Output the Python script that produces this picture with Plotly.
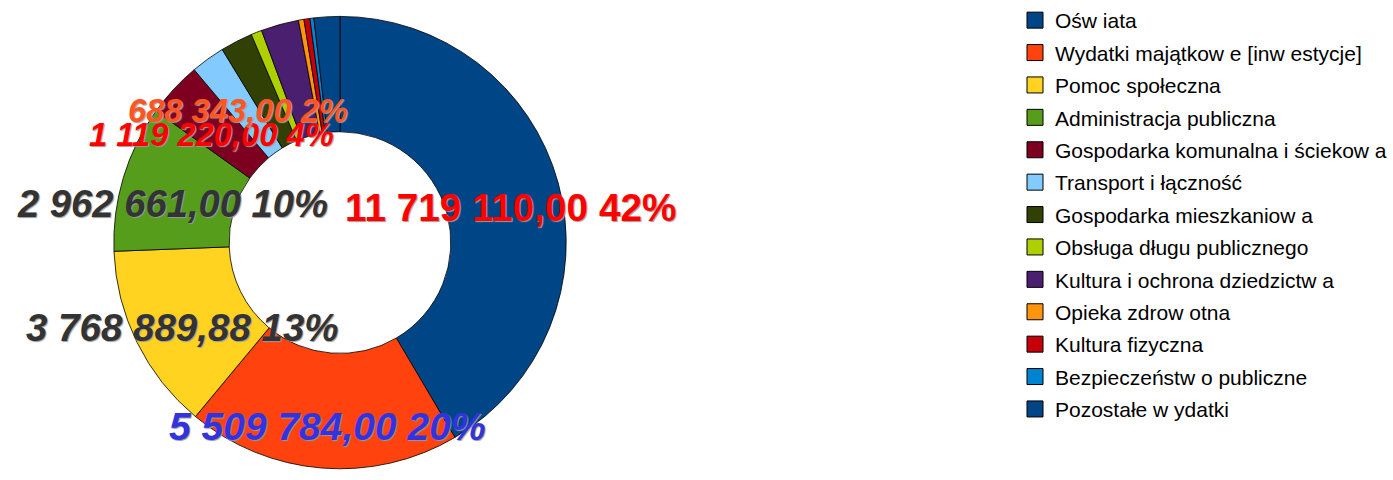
import plotly.graph_objects as go

categories = [
    "Ośw iata",
    "Wydatki majątkow e [inw estycje]",
    "Pomoc społeczna",
    "Administracja publiczna",
    "Gospodarka komunalna i ściekow a",
    "Transport i łączność",
    "Gospodarka mieszkaniow a",
    "Obsługa długu publicznego",
    "Kultura i ochrona dziedzictw a",
    "Opieka zdrow otna",
    "Kultura fizyczna",
    "Bezpieczeństw o publiczne",
    "Pozostałe w ydatki",
]
values = [11719110.00, 5509784.00, 3768889.88, 2962661.00, 1119220.00, 688343.00,
          650000.00, 220000.00, 760000.00, 110000.00, 120000.00, 80000.00, 520000.00]
colors = ["#004586", "#ff420e", "#ffd320", "#579d1c", "#7e0021", "#83caff",
          "#314004", "#aecf00", "#4b1f6f", "#ff950e", "#c5000b", "#0084d1", "#004586"]

# data labels shown in the chart (index into categories, displayed percent)
label_idx = [0, 1, 2, 3, 4, 5]
label_pct = ["42%", "20%", "13%", "10%", "4%", "2%"]
label_color = ["#ff0000", "#3333dd", "#333333", "#333333", "#ff0000", "#ff5522"]
label_italic = [False, True, True, True, True, True]
label_size = [38.7, 39, 38.5, 38.2, 32.7, 32.7]
label_pos = [(511, 200.5), (327, 425), (182, 324), (172, 196), (211, 126), (238, 101.5)]

W, H = 1393, 480


def fmt(v):
    s = f"{v:,.2f}"
    return s.replace(",", " ").replace(".", ",")


cx, cy, r = 340, 236.5, 232
fig = go.Figure()
fig.add_trace(go.Pie(
    labels=categories, values=values, sort=False, direction="clockwise", rotation=0,
    hole=0.49, textinfo="none", showlegend=False, hoverinfo="label+value+percent",
    marker=dict(colors=colors, line=dict(color="#000000", width=0.8)),
    domain=dict(x=[(cx - r) / W, (cx + r) / W], y=[(H - cy - r) / H, (H - cy + r) / H]),
))

# legend entries (square swatches)
for name, c in zip(categories, colors):
    fig.add_trace(go.Scatter(
        x=[None], y=[None], mode="markers", name=name, legendgroup=name,
        marker=dict(symbol="square", size=16, color=c, line=dict(color="#000000", width=1)),
        hoverinfo="skip",
    ))

for i, pct, col, it, sz, (px, py) in zip(label_idx, label_pct, label_color, label_italic,
                                          label_size, label_pos):
    fig.add_annotation(
        x=px / W, y=1 - py / H, xref="paper", yref="paper", xanchor="center", yanchor="middle",
        text=f"{fmt(values[i])} {pct}", showarrow=False,
        font=dict(family="Liberation Sans, Arial, sans-serif", size=sz, color=col,
                  weight="bold", style="italic" if it else "normal",
                  shadow="1px 1px 1px #9a9a9a"),
    )

fig.update_layout(
    width=W, height=H, margin=dict(l=0, r=0, t=0, b=0),
    paper_bgcolor="#ffffff", plot_bgcolor="#ffffff",
    xaxis=dict(visible=False), yaxis=dict(visible=False),
    legend=dict(x=1015 / W, y=1.0266, xanchor="left", yanchor="top", tracegroupgap=2.1,
                maxheight=1.0,
                font=dict(family="Liberation Sans, Arial, sans-serif", size=21, color="#000000"),
                bgcolor="rgba(0,0,0,0)"),
    font=dict(family="Liberation Sans, Arial, sans-serif"),
)

fig.write_html("out.html", config={"displayModeBar": False},
               post_script="document.body.style.margin='0';")
